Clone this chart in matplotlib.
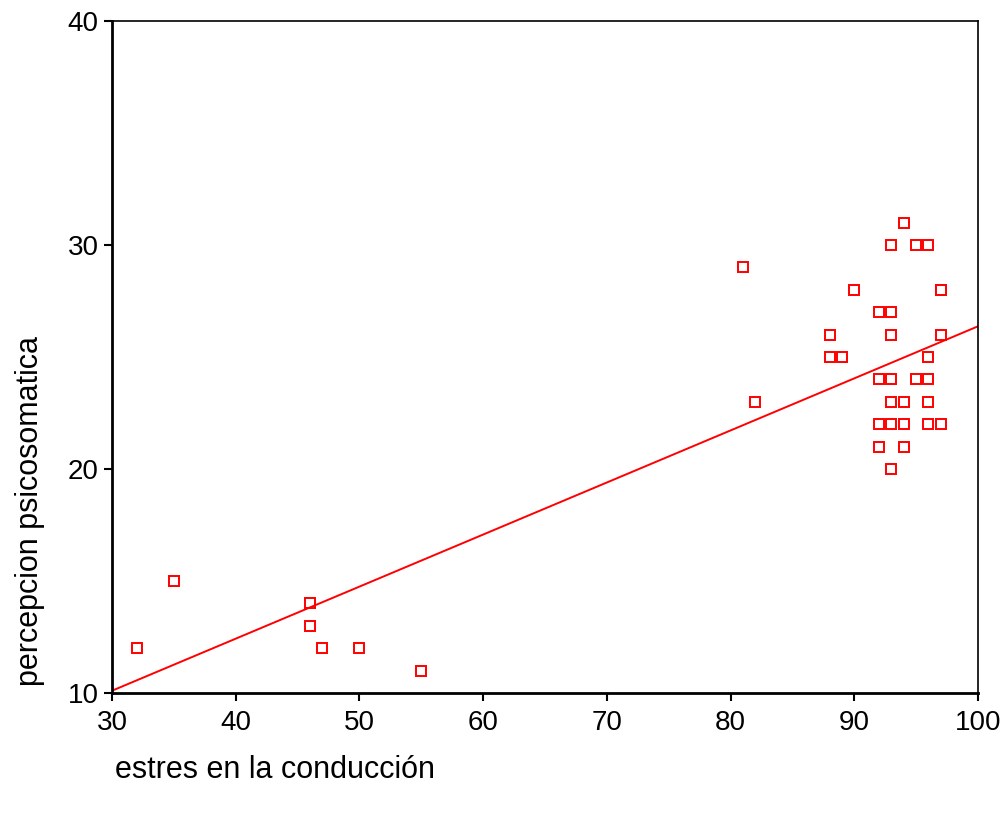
import matplotlib
matplotlib.use("Agg")
import matplotlib.pyplot as plt

plt.rcParams['font.family'] = ['Liberation Sans', 'DejaVu Sans']

estres = [32, 35, 46, 46, 47, 50, 55, 81, 82,
          88, 88, 89, 90, 92, 93, 93, 94, 95, 96, 97, 97,
          93, 97, 96, 92, 93, 95, 96, 93, 94, 96,
          92, 93, 94, 96, 97, 92, 94, 93]
percepcion = [12, 15, 14, 13, 12, 12, 11, 29, 23,
              26, 25, 25, 28, 27, 27, 30, 31, 30, 30, 28, 28,
              26, 26, 25, 24, 24, 24, 24, 23, 23, 23,
              22, 22, 22, 22, 22, 21, 21, 20]
# regression line (fit at x = 30 and x = 100)
fit_x = [30, 100]
fit_y = [10.10, 26.37]
xticks = [30, 40, 50, 60, 70, 80, 90, 100]
yticks = [10, 20, 30, 40]

fig = plt.figure(figsize=(10.05, 8.15), dpi=100)
ax = fig.add_axes([0.1114, 0.1497, 0.8617, 0.8245])

ax.plot(estres, percepcion, linestyle='none', marker='s', markersize=6.5,
        markerfacecolor='white', markeredgecolor='red', markeredgewidth=1.4)
ax.plot(fit_x, fit_y, color='red', linewidth=1.4)

ax.set_xlim(30, 100)
ax.set_ylim(10, 40)
ax.set_xticks(xticks)
ax.set_yticks(yticks)
ax.tick_params(labelsize=20, width=1.5, length=6, direction='out')
ax.tick_params(axis='x', pad=6)
for s in ['left', 'bottom']:
    ax.spines[s].set_linewidth(2)
for s in ['top', 'right']:
    ax.spines[s].set_linewidth(1.2)

fig.text(0.114, 0.055, 'estres en la conducción', fontsize=22, ha='left', va='center')
fig.text(0.030, 0.373, 'percepcion psicosomatica', fontsize=22, rotation=90, ha='center', va='center')

fig.savefig('out.png', dpi=100)
